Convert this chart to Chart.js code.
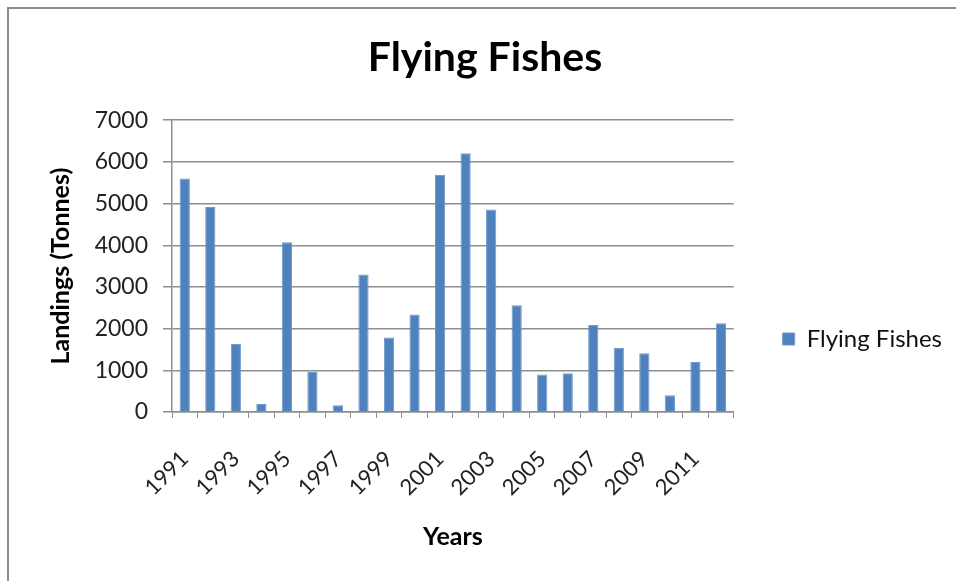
<!DOCTYPE html>
<html>
<head>
<meta charset="utf-8">
<script src="https://cdn.jsdelivr.net/npm/chart.js@4/dist/chart.umd.min.js"></script>
<style>
  html, body { margin: 0; padding: 0; background: #fff; }
  #wrap { position: relative; width: 956px; height: 581px; }
  #frame { position: absolute; left: 7px; top: 7px; right: 0; bottom: 0;
           border-top: 2px solid #8c8c8c; border-left: 2px solid #8c8c8c; pointer-events: none; }
</style>
</head>
<body>
<div id="wrap">
  <canvas id="fishChart" width="956" height="581"></canvas>
  <div id="frame"></div>
</div>
<script>
// Data
const years = ['1991', '1992', '1993', '1994', '1995', '1996', '1997', '1998', '1999', '2000', '2001',
               '2002', '2003', '2004', '2005', '2006', '2007', '2008', '2009', '2010', '2011', '2012'];
const landings = [5600, 4920, 1630, 190, 4070, 960, 160, 3300, 1790, 2340, 5690,
                  6210, 4860, 2560, 900, 930, 2090, 1540, 1410, 400, 1200, 2130];
const yTicks = [0, 1000, 2000, 3000, 4000, 5000, 6000, 7000];

const FONT = 'Lato, "Open Sans", sans-serif';
const GRID = '#8e8e8e';

const ctx = document.getElementById('fishChart').getContext('2d');
new Chart(ctx, {
    type: 'bar',
    data: {
        labels: years,
        datasets: [{
            label: 'Flying Fishes',
            data: landings,
            backgroundColor: '#4f81bd',
            borderColor: '#6f98cc',
            borderWidth: 1,
            categoryPercentage: 1,
            barPercentage: 0.4
        }]
    },
    options: {
        responsive: false,
        animation: false,
        layout: { padding: { left: 18, right: 4, top: 0, bottom: 0 } },
        plugins: {
            title: {
                display: true,
                text: 'Flying Fishes',
                color: '#000',
                font: { family: FONT, size: 41, weight: 'bold' },
                padding: { top: 33, bottom: 38 }
            },
            legend: {
                position: 'right',
                // empty legend title only pushes the entry down to the reference height
                title: { display: true, text: '', font: { size: 10 }, padding: { top: 85, bottom: 0 } },
                labels: {
                    boxWidth: 12,
                    boxHeight: 12,
                    padding: 49,
                    color: '#111',
                    font: { family: FONT, size: 24 }
                }
            },
            tooltip: { enabled: false }
        },
        scales: {
            x: {
                grid: { display: true, drawOnChartArea: false, drawTicks: true, tickLength: 6, color: GRID, offset: true },
                border: { display: true, color: GRID, width: 1.5 },
                ticks: {
                    autoSkip: false,
                    maxRotation: 45,
                    minRotation: 45,
                    padding: 28,
                    color: '#222',
                    font: { family: FONT, size: 22 },
                    callback: (v, i) => (i % 2 === 0 ? years[i] : '')
                },
                title: {
                    display: true,
                    text: 'Years',
                    color: '#000',
                    font: { family: FONT, size: 25, weight: 'bold' },
                    padding: { top: 0, bottom: 29 }
                },
                afterFit: (scale) => { scale.height = 169; }
            },
            y: {
                min: 0,
                max: 7000,
                afterBuildTicks: (scale) => { scale.ticks = yTicks.map(v => ({ value: v })); },
                grid: { color: GRID, lineWidth: 1.5, tickLength: 9 },
                border: { display: true, color: GRID, width: 1.5 },
                ticks: {
                    padding: 15,
                    color: '#222',
                    font: { family: FONT, size: 23 },
                    callback: (v) => String(v)
                },
                title: {
                    display: true,
                    text: 'Landings (Tonnes)',
                    color: '#000',
                    font: { family: FONT, size: 25, weight: 'bold' },
                    padding: { top: 28, bottom: 0 }
                },
                afterFit: (scale) => { scale.width = 154; }
            }
        }
    }
});
</script>
</body>
</html>
